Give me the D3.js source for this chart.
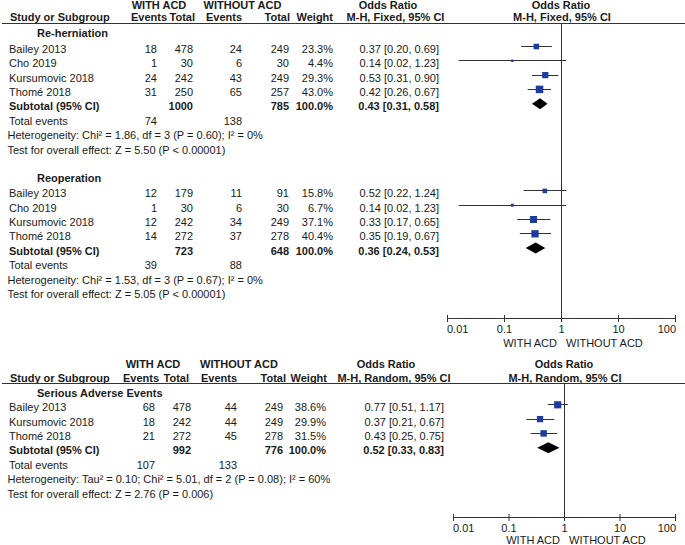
<!DOCTYPE html>
<html><head><meta charset="utf-8">
<script src="https://cdn.jsdelivr.net/npm/d3@7/dist/d3.min.js"></script>
<style>
body{margin:0;background:#fff;}
svg text{font-family:"Liberation Sans",Arial,sans-serif;font-size:11px;fill:#1a1a1a;}
</style></head><body>
<svg id="c" width="685" height="545"></svg>
<script>
// ---------- data ----------
const groupNames = ["Re-herniation", "Reoperation", "Serious Adverse Events"];
const studyNames = [
  ["Bailey 2013", "Cho 2019", "Kursumovic 2018", "Thomé 2018"],
  ["Bailey 2013", "Cho 2019", "Kursumovic 2018", "Thomé 2018"],
  ["Bailey 2013", "Kursumovic 2018", "Thomé 2018"]
];
const withEvents    = [[18, 1, 24, 31], [12, 1, 12, 14], [68, 18, 21]];
const withTotal     = [[478, 30, 242, 250], [179, 30, 242, 272], [478, 242, 272]];
const withoutEvents = [[24, 6, 43, 65], [11, 6, 34, 37], [44, 44, 45]];
const withoutTotal  = [[249, 30, 249, 257], [91, 30, 249, 278], [249, 249, 278]];
const weights       = [[23.3, 4.4, 29.3, 43.0], [15.8, 6.7, 37.1, 40.4], [38.6, 29.9, 31.5]];
const oddsRatio     = [[0.37, 0.14, 0.53, 0.42], [0.52, 0.14, 0.33, 0.35], [0.77, 0.37, 0.43]];
const ciLow         = [[0.20, 0.016, 0.31, 0.26], [0.22, 0.016, 0.17, 0.19], [0.51, 0.21, 0.25]];
const ciHigh        = [[0.69, 1.23, 0.90, 0.67], [1.24, 1.23, 0.65, 0.67], [1.17, 0.67, 0.75]];
const subWithTotal    = [1000, 723, 992];
const subWithoutTotal = [785, 648, 776];
const subOR   = [0.43, 0.36, 0.52];
const subLow  = [0.31, 0.24, 0.33];
const subHigh = [0.58, 0.53, 0.83];
const totalWithEvents    = [74, 39, 107];
const totalWithoutEvents = [138, 88, 133];
const heterogeneity = [
  "Heterogeneity: Chi² = 1.86, df = 3 (P = 0.60); I² = 0%",
  "Heterogeneity: Chi² = 1.53, df = 3 (P = 0.67); I² = 0%",
  "Heterogeneity: Tau² = 0.10; Chi² = 5.01, df = 2 (P = 0.08); I² = 60%"
];
const overallEffect = [
  "Test for overall effect: Z = 5.50 (P < 0.00001)",
  "Test for overall effect: Z = 5.05 (P < 0.00001)",
  "Test for overall effect: Z = 2.76 (P = 0.006)"
];
const axisTicks  = [0.01, 0.1, 1, 10, 100];
const tickLabels = ["0.01", "0.1", "1", "10", "100"];
const favourLabels = ["WITH ACD", "WITHOUT ACD"];
const armLabels = ["WITH ACD", "WITHOUT ACD"];
const methods = ["M-H, Fixed, 95% CI", "M-H, Random, 95% CI"];
const panelGroups = [[0, 1], [2]];

// ---------- layout ----------
const panels = [
  { h1: 5, h2: 17.5, line: 23, titles: [33.3, 177.7], gap: 15.7, step: 14.3, axisY: 318, x0: 447, x1: 675,
    head: { arm1: 159, arm2: 242.5, or1: 388, mh1: 395.5, study: 10, ev1: 167, tot1: 195, ev2: 242, tot2: 290, wt: 333 },
    col: { ev1: 157, tot1: 193, ev2: 242, tot2: 289, wt: 333, ci: 439 } },
  { h1: 364, h2: 378, line: 383, titles: [392.7], gap: 14.6, step: 14.3, axisY: 517, x0: 453, x1: 675,
    head: { arm1: 153, arm2: 239, or1: 386, mh1: 394, study: 10, ev1: 159, tot1: 189, ev2: 237, tot2: 286, wt: 327 },
    col: { ev1: 155, tot1: 191, ev2: 237, tot2: 283, wt: 326, ci: 444 } }
];
const ink = "#1a1a1a", lineCol = "#333", blue = "#1e3c9e";
const f2 = d3.format(".2f"), f1 = d3.format(".1f");
const ciText = (o, l, h) => `${f2(o)} [${f2(l)}, ${f2(h)}]`;

const svg = d3.select("#c");

function txt(g, x, y, s, anchor, bold) {
  return g.append("text").attr("x", x).attr("y", y).attr("dy", "0.36em")
    .attr("text-anchor", anchor || "start").attr("font-weight", bold ? "bold" : null).text(s);
}

panels.forEach((P, pi) => {
  const g = svg.append("g");
  const x = d3.scaleLog().domain([0.01, 100]).range([P.x0, P.x1]);
  const H = P.head;
  // headers
  txt(g, H.arm1, P.h1, armLabels[0], "middle", true);
  txt(g, H.arm2, P.h1, armLabels[1], "middle", true);
  txt(g, H.or1, P.h1, "Odds Ratio", "middle", true);
  txt(g, x(1), P.h1, "Odds Ratio", "middle", true);
  txt(g, H.study, P.h2, "Study or Subgroup", "start", true);
  txt(g, H.ev1, P.h2, "Events", "end", true);
  txt(g, H.tot1, P.h2, "Total", "end", true);
  txt(g, H.ev2, P.h2, "Events", "end", true);
  txt(g, H.tot2, P.h2, "Total", "end", true);
  txt(g, H.wt, P.h2, "Weight", "end", true);
  txt(g, H.mh1, P.h2, methods[pi], "middle", true);
  txt(g, x(1) + 1, P.h2, methods[pi], "middle", true);
  g.append("line").attr("x1", 2).attr("x2", 685).attr("y1", P.line).attr("y2", P.line)
    .attr("stroke", lineCol).attr("shape-rendering", "crispEdges");
  // null line
  g.append("line").attr("x1", Math.round(x(1)) + 0.5).attr("x2", Math.round(x(1)) + 0.5)
    .attr("y1", P.line).attr("y2", P.axisY).attr("stroke", lineCol);

  panelGroups[pi].forEach((gi, k) => {
    const ty = P.titles[k];
    const C = P.col;
    txt(g, 37, ty, groupNames[gi], "start", true);
    const n = studyNames[gi].length;
    const rows = d3.range(n).map(i => ({
      y: ty + P.gap + i * P.step,
      name: studyNames[gi][i], e1: withEvents[gi][i], t1: withTotal[gi][i],
      e2: withoutEvents[gi][i], t2: withoutTotal[gi][i], w: weights[gi][i],
      or: oddsRatio[gi][i], lo: ciLow[gi][i], hi: ciHigh[gi][i]
    }));
    const rg = g.selectAll(null).data(rows).enter().append("g");
    const cell = (xx, fn, anchor) => rg.append("text").attr("x", xx).attr("y", d => d.y).attr("dy", "0.36em")
      .attr("text-anchor", anchor).text(fn);
    cell(9, d => d.name, "start");
    cell(C.ev1, d => d.e1, "end");
    cell(C.tot1, d => d.t1, "end");
    cell(C.ev2, d => d.e2, "end");
    cell(C.tot2, d => d.t2, "end");
    cell(C.wt, d => f1(d.w) + "%", "end");
    cell(C.ci, d => ciText(d.or, d.lo, d.hi), "end");
    // CI lines and squares
    rg.append("line").attr("x1", d => x(d.lo)).attr("x2", d => x(d.hi))
      .attr("y1", d => Math.round(d.y - 3) + 0.5).attr("y2", d => Math.round(d.y - 3) + 0.5)
      .attr("stroke", lineCol);
    rg.append("rect")
      .attr("x", d => x(d.or) - 0.575 * Math.sqrt(d.w))
      .attr("y", d => d.y - 2.5 - 0.575 * Math.sqrt(d.w))
      .attr("width", d => 1.15 * Math.sqrt(d.w)).attr("height", d => 1.15 * Math.sqrt(d.w))
      .attr("fill", blue);
    // subtotal
    const sy = ty + P.gap + n * P.step;
    txt(g, 9, sy, "Subtotal (95% CI)", "start", true);
    txt(g, C.tot1, sy, subWithTotal[gi], "end", true);
    txt(g, C.tot2, sy, subWithoutTotal[gi], "end", true);
    txt(g, C.wt, sy, f1(100) + "%", "end", true);
    txt(g, C.ci, sy, ciText(subOR[gi], subLow[gi], subHigh[gi]), "end", true);
    const dy = sy - 2.5, dh = 5.5;
    g.append("path").attr("d",
      `M${x(subLow[gi])},${dy}L${x(subOR[gi])},${dy - dh}L${x(subHigh[gi])},${dy}L${x(subOR[gi])},${dy + dh}Z`)
      .attr("fill", "#000");
    const ey = sy + 14.5;
    txt(g, 9, ey, "Total events", "start");
    txt(g, C.ev1, ey, totalWithEvents[gi], "end");
    txt(g, C.ev2, ey, totalWithoutEvents[gi], "end");
    txt(g, 7.5, ey + 14.5, heterogeneity[gi], "start");
    txt(g, 7.5, ey + 29, overallEffect[gi], "start");
  });

  // axis
  const ax = g.append("g").attr("transform", `translate(0,${P.axisY + 0.5})`)
    .call(d3.axisBottom(x).tickValues(axisTicks).tickFormat((d, i) => tickLabels[i]).tickSizeOuter(0));
  ax.select(".domain").attr("stroke", lineCol).attr("d", `M${P.x0},0H${P.x1}`);
  ax.selectAll(".tick line").attr("y1", -3.5).attr("y2", 3.5).attr("stroke", lineCol);
  ax.selectAll(".tick text").attr("y", 7).attr("dy", "0.71em")
    .attr("font-family", null).attr("font-size", null).attr("fill", null)
    .attr("text-anchor", (d, i) => i === 0 ? "start" : (i === axisTicks.length - 1 ? "end" : "middle"))
    .attr("dx", (d, i) => i === 0 ? -0.5 : (i === axisTicks.length - 1 ? 0.5 : 0));
  const fy = P.axisY + (pi === 0 ? 25 : 23);
  txt(g, x(1) - 4, fy, favourLabels[0], "end");
  txt(g, x(1) + 5, fy, favourLabels[1], "start");
});
</script>
</body></html>
